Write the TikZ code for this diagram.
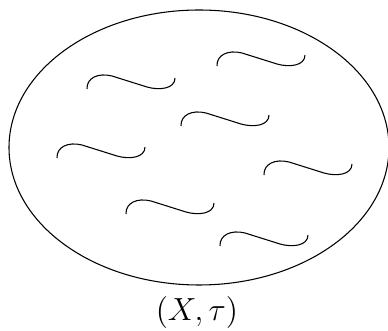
\documentclass[tikz,border=0pt]{standalone}
\begin{document}
\begin{tikzpicture}[x=0.375pt,y=-0.375pt,
  squiggle/.pic={\draw[line width=0.4pt] (0,0) .. controls (-0.5,-11) and (11,-16.5) .. (25,-13) -- (60,-2) .. controls (72,1.5) and (88,0) .. (88,-11);},
  outline/.style={line width=0.4pt}]
\useasboundingbox (0,0) rectangle (388,331);
\draw[outline] (199,147.5) ellipse [x radius=190, y radius=137.5];
\pic at (87,89) {squiggle};
\pic at (217,66) {squiggle};
\pic at (181,126) {squiggle};
\pic at (57,158) {squiggle};
\pic at (264,175) {squiggle};
\pic at (126,214) {squiggle};
\pic at (220,246) {squiggle};
\node[anchor=base, inner sep=0pt, font=\fontsize{12.3}{15}\selectfont] (lab) at (197,321) {$(X,\tau)$};
\end{tikzpicture}
\end{document}
